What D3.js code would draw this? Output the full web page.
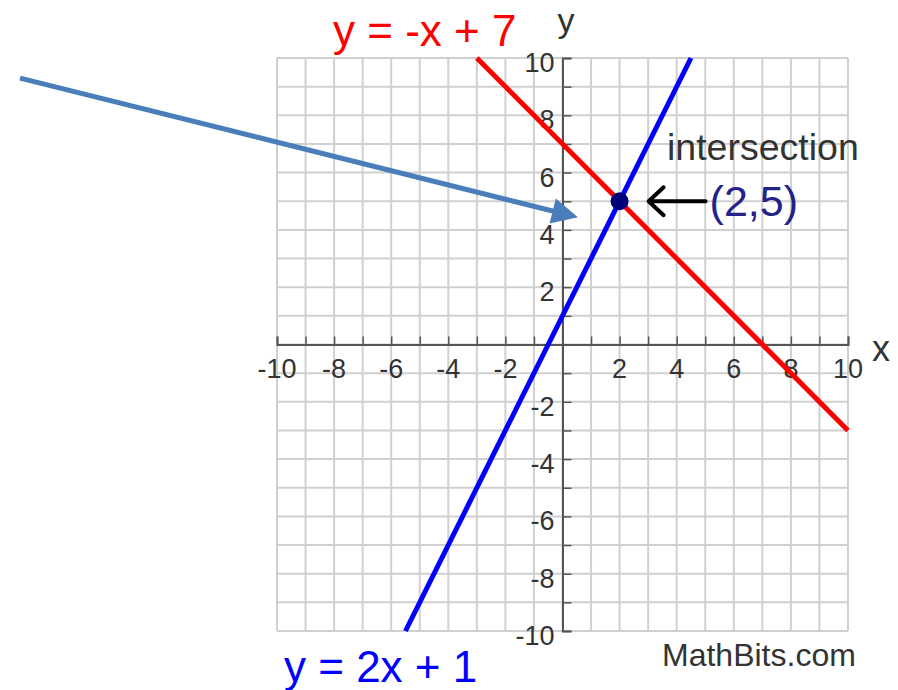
<!DOCTYPE html>
<html>
<head>
<meta charset="utf-8">
<script src="https://cdn.jsdelivr.net/npm/d3@7"></script>
<style>
  body { margin: 0; background: #fff; }
  svg { display: block; font-family: "Liberation Sans", Arial, sans-serif; }
</style>
</head>
<body>
<svg id="graph" width="898" height="690"></svg>
<script>
// tick labels on both axes (0 is left blank)
var xTicks = [-10, -8, -6, -4, -2, 2, 4, 6, 8, 10];
var yTicks = [-10, -8, -6, -4, -2, 2, 4, 6, 8, 10];
var gridValues = d3.range(-10, 11);

// the two lines, endpoints where they leave the grid
var redLine = [{x: -3, y: 10}, {x: 10, y: -3}];
var blueLine = [{x: -5.5, y: -10}, {x: 4.5, y: 10}];
var intersection = {x: 2, y: 5, label: "(2,5)"};

// big pointer arrow drawn over the picture (tail -> tip)
var pointerArrow = [{x: -19, y: 9.3}, {x: 0.54, y: 4.44}];

var svg = d3.select("svg#graph");

var x = d3.scaleLinear().domain([-10, 10]).range([277, 848]);
var y = d3.scaleLinear().domain([-10, 10]).range([631, 58]);

// grid
var grid = svg.append("g").attr("class", "grid")
    .attr("stroke", "#d0d0d0")
    .attr("stroke-width", 2);

grid.selectAll("line.v")
    .data(gridValues)
    .enter().append("line")
    .attr("class", "v")
    .attr("x1", function(d) { return x(d); })
    .attr("x2", function(d) { return x(d); })
    .attr("y1", y(-10))
    .attr("y2", y(10));

grid.selectAll("line.h")
    .data(gridValues)
    .enter().append("line")
    .attr("class", "h")
    .attr("y1", function(d) { return y(d); })
    .attr("y2", function(d) { return y(d); })
    .attr("x1", x(-10))
    .attr("x2", x(10));

// axes through the origin
var xAxis = d3.axisTop(x).tickValues(gridValues).tickSize(8).tickFormat("");
var yAxis = d3.axisRight(y).tickValues(gridValues).tickSize(9).tickFormat("");

var gx = svg.append("g").attr("transform", "translate(0," + y(0) + ")").call(xAxis);
var gy = svg.append("g").attr("transform", "translate(" + x(0) + ",0)").call(yAxis);
[gx, gy].forEach(function(g) {
  g.select(".domain").attr("stroke", "#555").attr("stroke-width", 2);
  g.selectAll(".tick line").attr("stroke", "#555").attr("stroke-width", 1.5);
});

svg.append("g").selectAll("text")
    .data(xTicks)
    .enter().append("text")
    .attr("x", function(d) { return x(d); })
    .attr("y", y(0) + 33)
    .attr("text-anchor", "middle")
    .attr("font-size", 27)
    .attr("fill", "#333")
    .text(function(d) { return d; });

svg.append("g").selectAll("text")
    .data(yTicks)
    .enter().append("text")
    .attr("x", x(0) - 8)
    .attr("y", function(d) { return y(d) + 14; })
    .attr("text-anchor", "end")
    .attr("font-size", 27)
    .attr("fill", "#333")
    .text(function(d) { return d; });

svg.append("text")
    .attr("x", x(10) + 24).attr("y", y(0) + 16)
    .attr("font-size", 36).attr("fill", "#333")
    .text("x");
svg.append("text")
    .attr("x", x(0) - 5).attr("y", 32)
    .attr("font-size", 34).attr("fill", "#333")
    .text("y");

// the lines
var lineGen = d3.line()
    .x(function(d) { return x(d.x); })
    .y(function(d) { return y(d.y); });

svg.append("path")
    .datum(redLine)
    .attr("d", lineGen)
    .attr("fill", "none")
    .attr("stroke", "#ff0000")
    .attr("stroke-width", 5);

svg.append("path")
    .datum(blueLine)
    .attr("d", lineGen)
    .attr("fill", "none")
    .attr("stroke", "#0000ff")
    .attr("stroke-width", 5);

svg.append("circle")
    .attr("cx", x(intersection.x))
    .attr("cy", y(intersection.y))
    .attr("r", 9)
    .attr("fill", "#00007a");

// small black arrow pointing at the intersection
var ax = x(intersection.x), ay = y(intersection.y);
svg.append("path")
    .attr("d", "M" + (ax + 86) + "," + ay + "H" + (ax + 30)
             + "M" + (ax + 44) + "," + (ay - 14) + "L" + (ax + 29) + "," + ay
             + "L" + (ax + 44) + "," + (ay + 14))
    .attr("fill", "none")
    .attr("stroke", "#000")
    .attr("stroke-width", 4)
    .attr("stroke-linecap", "round")
    .attr("stroke-linejoin", "round");

svg.append("text")
    .attr("x", ax + 90).attr("y", ay + 15)
    .attr("font-size", 43).attr("fill", "#22228a")
    .text(intersection.label);

svg.append("text")
    .attr("x", 667).attr("y", 160)
    .attr("font-size", 37.5).attr("fill", "#333")
    .text("intersection");

// equation labels
svg.append("text")
    .attr("x", 333).attr("y", 46)
    .attr("font-size", 44).attr("fill", "#ff0000")
    .text("y = -x + 7");

svg.append("text")
    .attr("x", 284).attr("y", 682)
    .attr("font-size", 44).attr("fill", "#0000ff")
    .text("y = 2x + 1");

svg.append("text")
    .attr("x", 662).attr("y", 666)
    .attr("font-size", 32).attr("fill", "#333")
    .text("MathBits.com");

// big pointer arrow
var tail = [x(pointerArrow[0].x), y(pointerArrow[0].y)],
    tip = [x(pointerArrow[1].x), y(pointerArrow[1].y)];
var ang = Math.atan2(tip[1] - tail[1], tip[0] - tail[0]),
    headLen = 26, headHalf = 13;
var base = [tip[0] - headLen * Math.cos(ang), tip[1] - headLen * Math.sin(ang)];

svg.append("line")
    .attr("x1", tail[0]).attr("y1", tail[1])
    .attr("x2", base[0] + 2 * Math.cos(ang)).attr("y2", base[1] + 2 * Math.sin(ang))
    .attr("stroke", "#4a7ebb")
    .attr("stroke-width", 5);

svg.append("polygon")
    .attr("points", [
      tip,
      [base[0] + headHalf * Math.sin(ang), base[1] - headHalf * Math.cos(ang)],
      [base[0] - headHalf * Math.sin(ang), base[1] + headHalf * Math.cos(ang)]
    ].map(function(p) { return p.join(","); }).join(" "))
    .attr("fill", "#4a7ebb");
</script>
</body>
</html>
